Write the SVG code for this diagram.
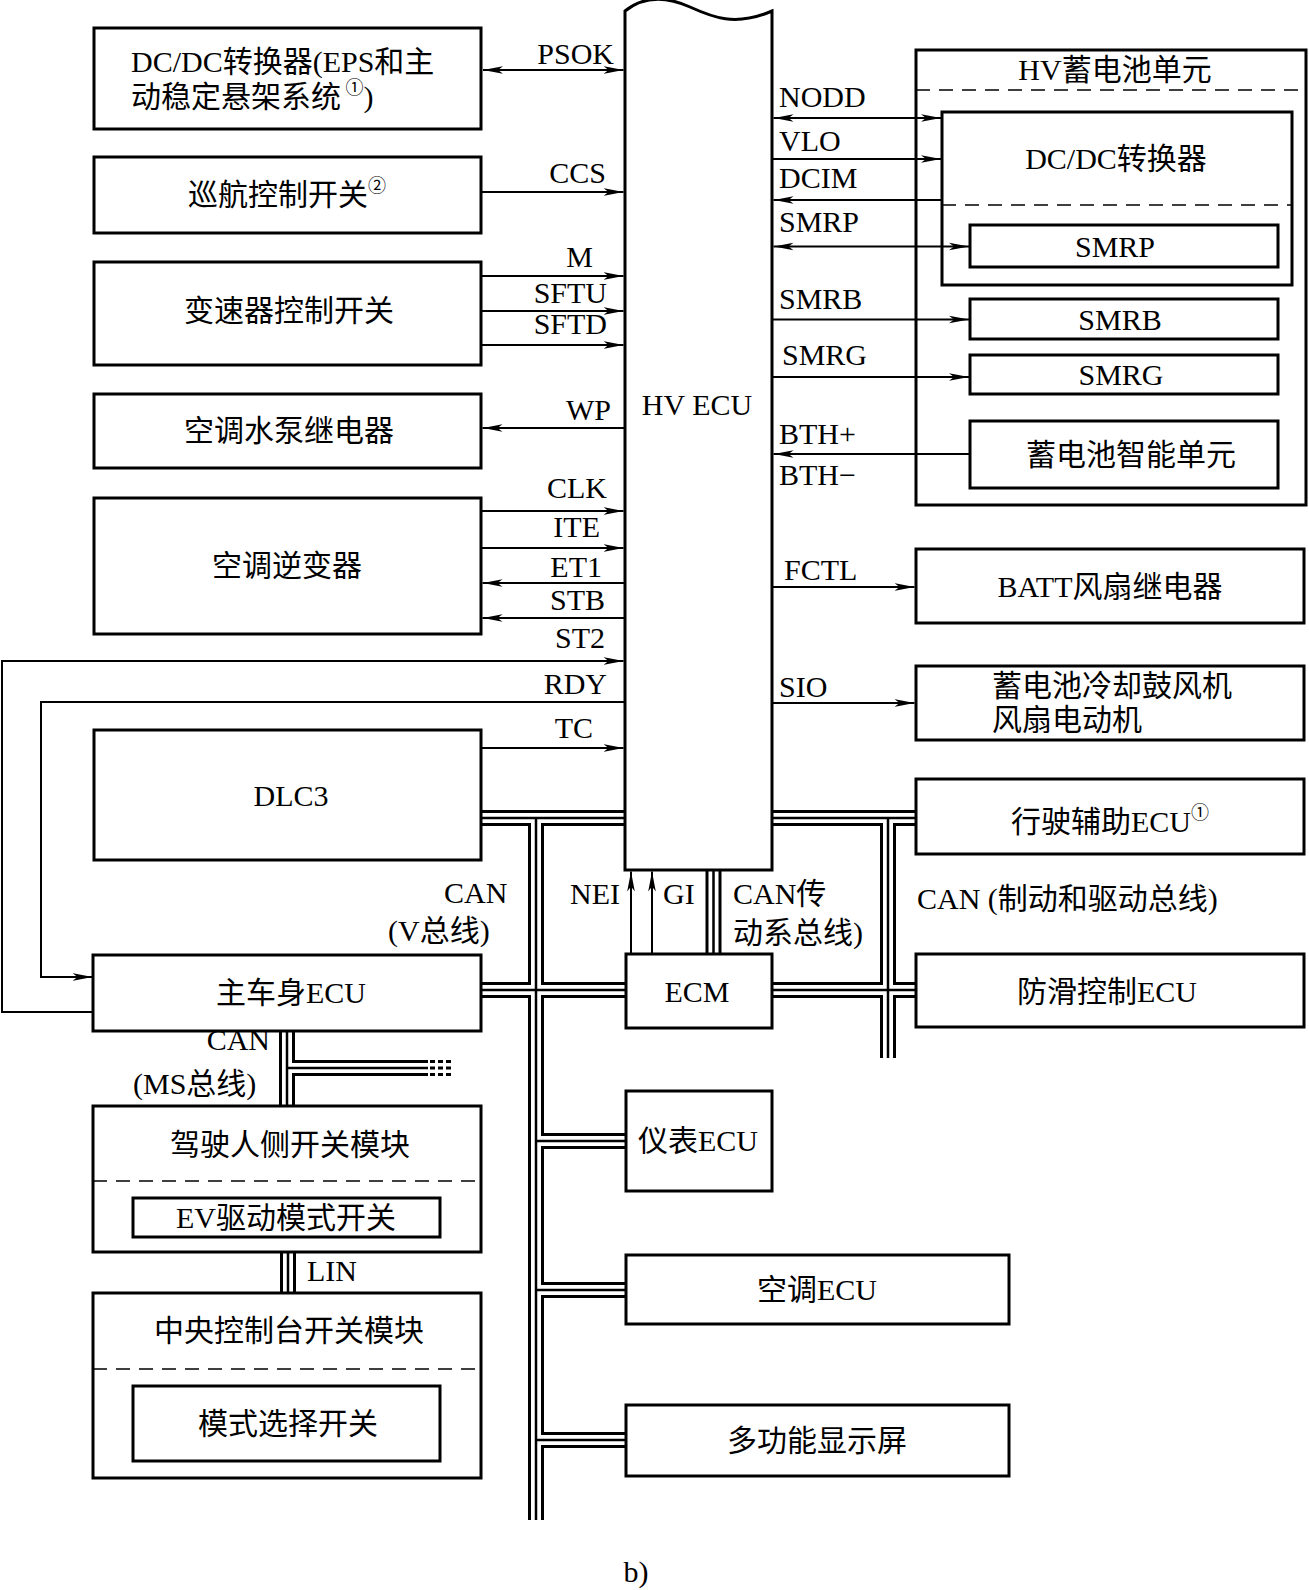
<svg xmlns="http://www.w3.org/2000/svg" width="1309" height="1590" viewBox="0 0 1309 1590">
<style>
.box{fill:#fff;stroke:#000;stroke-width:3}
.frame{fill:none;stroke:#000;stroke-width:3}
.dash{stroke:#000;stroke-width:1.6;stroke-dasharray:14 9;fill:none}
.ln{stroke:#000;stroke-width:2;fill:none}
.t{font-family:"Liberation Serif","Noto Sans CJK SC",serif;font-size:30px;fill:#000}
.c{text-anchor:middle}
.r{text-anchor:end}
.sup{font-size:18px}
.bA{stroke:#000;stroke-width:16;fill:none}
.bB{stroke:#fff;stroke-width:10;fill:none}
.bC{stroke:#000;stroke-width:2.5;fill:none}
</style>
<defs>
<marker id="ah" markerUnits="userSpaceOnUse" markerWidth="20" markerHeight="10" viewBox="0 0 20 10" refX="20" refY="5" orient="auto-start-reverse">
<path d="M0,1.2 L20,5 L0,8.8 L5,5 z" fill="#000"/>
</marker>
</defs>
<rect width="1309" height="1590" fill="#fff"/>

<g id="buses">
<path class="bA" d="M481,818 H625 M772,818 H916 M536,818 V1520 M888,818 V1058 M481,990 H626 M772,990 H916 M713.5,870 V954 M536,1141 H626 M536,1290 H626 M536,1440 H626 M287,1031 V1106 M287,1068 H428 M288,1252 V1293"/>
<path class="bB" d="M481,818 H625 M772,818 H916 M536,818 V1520 M888,818 V1058 M481,990 H626 M772,990 H916 M713.5,870 V954 M536,1141 H626 M536,1290 H626 M536,1440 H626 M287,1031 V1106 M287,1068 H428 M288,1252 V1293"/>
<path class="bC" d="M481,818 H625 M772,818 H916 M536,818 V1520 M888,818 V1058 M481,990 H626 M772,990 H916 M713.5,870 V954 M536,1141 H626 M536,1290 H626 M536,1440 H626 M287,1031 V1106 M287,1068 H428 M288,1252 V1293"/>
<path d="M430,1061.5 H452 M430,1068 H452 M430,1074.5 H452" stroke="#000" stroke-width="3" stroke-dasharray="5 3" fill="none"/>
</g>

<g id="hvecu">
<path class="box" d="M625,11 C645,-5 668,-3 690,7 C712,17 735,27 772,11 V870 H625 Z"/>
<text class="t c" x="697" y="415">HV ECU</text>
</g>
<g id="ecm"><rect class="box" x="626" y="954" width="146" height="74"/><text class="t c" x="697" y="1002">ECM</text></g>

<g id="dcdc-eps"><rect class="box" x="94" y="28" width="387" height="101"/>
<text class="t" x="131" y="72">DC/DC转换器(EPS和主</text>
<text class="t" x="131" y="107">动稳定悬架系统<tspan class="sup" dy="-13"> ①</tspan><tspan dy="13">)</tspan></text></g>
<g id="cruise"><rect class="box" x="94" y="157" width="387" height="76"/>
<text class="t c" x="287" y="205">巡航控制开关<tspan class="sup" dy="-13">②</tspan></text></g>
<g id="shift"><rect class="box" x="94" y="262" width="387" height="103"/><text class="t c" x="289" y="321">变速器控制开关</text></g>
<g id="wp-relay"><rect class="box" x="94" y="394" width="387" height="74"/><text class="t c" x="289" y="441">空调水泵继电器</text></g>
<g id="ac-inverter"><rect class="box" x="94" y="498" width="387" height="136"/><text class="t c" x="287" y="576">空调逆变器</text></g>
<g id="dlc3"><rect class="box" x="94" y="730" width="387" height="130"/><text class="t c" x="291" y="806">DLC3</text></g>
<g id="body-ecu"><rect class="box" x="93" y="955" width="388" height="76"/><text class="t c" x="291" y="1003">主车身ECU</text></g>
<g id="driver-sw"><rect class="box" x="93" y="1106" width="388" height="146"/>
<line class="dash" x1="93" y1="1181" x2="481" y2="1181"/>
<text class="t c" x="290" y="1155">驾驶人侧开关模块</text>
<rect class="box" x="133" y="1198" width="307" height="39"/>
<text class="t c" x="286" y="1228">EV驱动模式开关</text></g>
<g id="console-sw"><rect class="box" x="93" y="1293" width="388" height="185"/>
<line class="dash" x1="93" y1="1369" x2="481" y2="1369"/>
<text class="t c" x="289" y="1341">中央控制台开关模块</text>
<rect class="box" x="133" y="1386" width="307" height="75"/>
<text class="t c" x="288" y="1434">模式选择开关</text></g>

<g id="hv-battery"><rect class="frame" x="916" y="50" width="390" height="455"/>
<line class="dash" x1="916" y1="90" x2="1306" y2="90"/>
<text class="t c" x="1115" y="80">HV蓄电池单元</text>
<g id="dcdc"><rect class="frame" x="942" y="112" width="350" height="173"/>
<line class="dash" x1="942" y1="205" x2="1292" y2="205"/>
<text class="t c" x="1116" y="169">DC/DC转换器</text>
<g id="smrp"><rect class="box" x="970" y="225" width="308" height="42"/><text class="t c" x="1115" y="257">SMRP</text></g></g>
<g id="smrb"><rect class="box" x="970" y="299" width="308" height="40"/><text class="t c" x="1120" y="330">SMRB</text></g>
<g id="smrg"><rect class="box" x="970" y="355" width="308" height="39"/><text class="t c" x="1121" y="385">SMRG</text></g>
<g id="bat-smart"><rect class="box" x="970" y="421" width="308" height="67"/><text class="t c" x="1131" y="465">蓄电池智能单元</text></g>
</g>
<g id="batt-fan"><rect class="box" x="916" y="549" width="388" height="74"/><text class="t c" x="1110" y="597">BATT风扇继电器</text></g>
<g id="blower"><rect class="box" x="916" y="666" width="388" height="74"/>
<text class="t" x="992" y="696">蓄电池冷却鼓风机</text><text class="t" x="992" y="730">风扇电动机</text></g>
<g id="drive-assist"><rect class="box" x="916" y="779" width="388" height="75"/>
<text class="t c" x="1110" y="832">行驶辅助ECU<tspan class="sup" dy="-13">①</tspan></text></g>
<g id="skid"><rect class="box" x="916" y="954" width="388" height="73"/><text class="t c" x="1107" y="1002">防滑控制ECU</text></g>
<g id="meter"><rect class="box" x="626" y="1091" width="146" height="100"/><text class="t c" x="698" y="1151">仪表ECU</text></g>
<g id="ac-ecu"><rect class="box" x="626" y="1255" width="383" height="69"/><text class="t c" x="817" y="1300">空调ECU</text></g>
<g id="mfd"><rect class="box" x="626" y="1405" width="383" height="71"/><text class="t c" x="817" y="1451">多功能显示屏</text></g>

<g id="connectors" class="ln">
<path d="M483,70 H623.5" marker-start="url(#ah)" marker-end="url(#ah)"/>
<path d="M481,192 H623.5" marker-end="url(#ah)"/>
<path d="M481,276 H623.5" marker-end="url(#ah)"/>
<path d="M481,311 H623.5" marker-end="url(#ah)"/>
<path d="M481,345 H623.5" marker-end="url(#ah)"/>
<path d="M625,428 H482.5" marker-end="url(#ah)"/>
<path d="M481,511 H623.5" marker-end="url(#ah)"/>
<path d="M481,548 H623.5" marker-end="url(#ah)"/>
<path d="M625,583 H482.5" marker-end="url(#ah)"/>
<path d="M625,618 H482.5" marker-end="url(#ah)"/>
<path d="M93,1012 H2 V661 H623.5" marker-end="url(#ah)"/>
<path d="M625,702 H41 V977 H92.5" marker-end="url(#ah)"/>
<path d="M481,748 H623.5" marker-end="url(#ah)"/>
<path d="M773.5,118 H941" marker-start="url(#ah)" marker-end="url(#ah)"/>
<path d="M772,159 H941" marker-end="url(#ah)"/>
<path d="M942,200 H773.5" marker-end="url(#ah)"/>
<path d="M773.5,246.5 H969" marker-start="url(#ah)" marker-end="url(#ah)"/>
<path d="M772,319.5 H969" marker-end="url(#ah)"/>
<path d="M772,377 H969" marker-end="url(#ah)"/>
<path d="M970,454 H773.5" marker-end="url(#ah)"/>
<path d="M772,587 H914.5" marker-end="url(#ah)"/>
<path d="M772,703 H914.5" marker-end="url(#ah)"/>
<path d="M631,954 V871.5" marker-end="url(#ah)"/>
<path d="M652,954 V871.5" marker-end="url(#ah)"/>
</g>

<g id="labels" class="t">
<text class="r" x="614" y="64">PSOK</text>
<text class="r" x="606" y="183">CCS</text>
<text class="r" x="593" y="267">M</text>
<text class="r" x="607" y="303">SFTU</text>
<text class="r" x="607" y="334">SFTD</text>
<text class="r" x="611" y="420">WP</text>
<text class="r" x="607" y="498">CLK</text>
<text class="r" x="600" y="537">ITE</text>
<text class="r" x="602" y="577">ET1</text>
<text class="r" x="605" y="610">STB</text>
<text class="r" x="605" y="648">ST2</text>
<text class="r" x="607" y="694">RDY</text>
<text class="r" x="593" y="738">TC</text>
<text x="779" y="107">NODD</text>
<text x="779" y="151">VLO</text>
<text x="779" y="188">DCIM</text>
<text x="779" y="232">SMRP</text>
<text x="779" y="309">SMRB</text>
<text x="782" y="365">SMRG</text>
<text x="779" y="444">BTH+</text>
<text x="779" y="485">BTH−</text>
<text x="784" y="580">FCTL</text>
<text x="779" y="697">SIO</text>
<text x="444" y="903">CAN</text>
<text x="388" y="941">(V总线)</text>
<text class="r" x="620" y="904">NEI</text>
<text x="663" y="904">GI</text>
<text x="733" y="904">CAN传</text>
<text x="733" y="943">动系总线)</text>
<text x="917" y="909">CAN (制动和驱动总线)</text>
<text class="r" x="270" y="1050">CAN</text>
<text x="133" y="1094">(MS总线)</text>
<text x="307" y="1281">LIN</text>
<text class="c" x="636" y="1582">b)</text>
</g>
</svg>
